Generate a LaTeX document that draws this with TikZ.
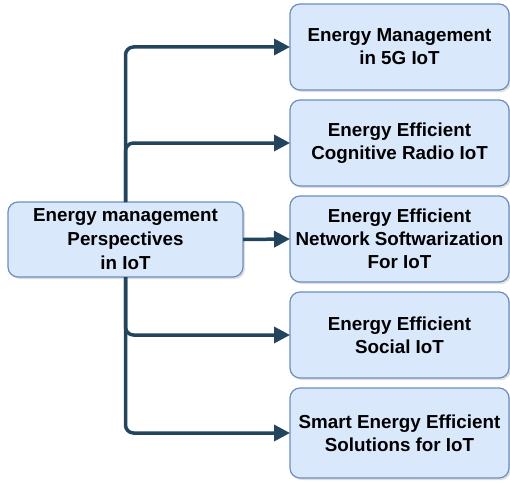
\documentclass[tikz,border=0pt]{standalone}
\usepackage{fontspec}
\setmainfont{Liberation Sans}
\usetikzlibrary{positioning,arrows.meta,shadows}

\definecolor{boxfill}{HTML}{DAE8FC}
\definecolor{boxline}{HTML}{6C8EBF}
\definecolor{linkcol}{HTML}{23445D}

\tikzset{
  topic/.style={draw=boxline, line width=1.2pt, fill=boxfill, rounded corners=10pt,
    drop shadow={shadow xshift=2pt, shadow yshift=-2pt, opacity=0.25},
    align=center, font=\bfseries\fontsize{18.8}{23}\selectfont,
    minimum width=219pt, minimum height=86pt, inner sep=0pt, outer sep=0pt},
  root/.style={topic, minimum width=235pt, minimum height=75pt,
    font=\bfseries\fontsize{18.8}{24}\selectfont},
  link/.style={draw=linkcol, line width=3.5pt, rounded corners=8pt,
    -{Triangle[length=16pt,width=16pt]}}
}

\begin{document}
\begin{tikzpicture}[x=1pt,y=-1pt, node distance=10pt]
  \useasboundingbox (0,0) rectangle (510,484);
  \node[root] (persp) at (125.5,239.5) {Energy management\\Perspectives\\in IoT};
  \node[topic] (fiveg) at (399.5,47) {Energy Management\\in 5G IoT};
  \node[topic, below=10pt of fiveg] (cogn) {Energy Efficient\\Cognitive Radio IoT};
  \node[topic, below=10pt of cogn] (softw) {Energy Efficient\\Network Softwarization\\For IoT};
  \node[topic, below=10pt of softw] (social) {Energy Efficient\\Social IoT};
  \node[topic, below=10pt of social, minimum height=90pt] (smart) {Smart Energy Efficient\\Solutions for IoT};

  \draw[link] (persp.north) |- (fiveg.west);
  \draw[link] (persp.north) |- (cogn.west);
  \draw[link] (persp.east) -- (softw.west);
  \draw[link] (persp.south) |- (social.west);
  \draw[link] (persp.south) |- (smart.west);
\end{tikzpicture}
\end{document}
